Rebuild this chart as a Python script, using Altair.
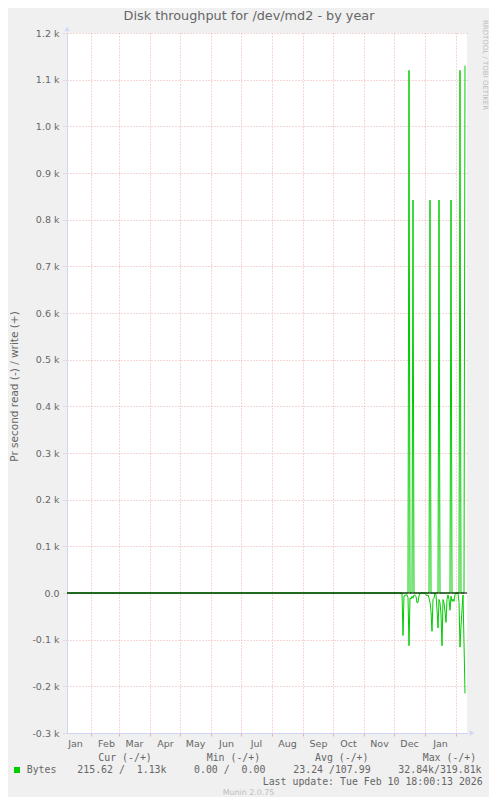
import altair as alt
import pandas as pd

# ---------------- data ----------------
TITLE = "Disk throughput for /dev/md2 - by year"
Y_TITLE = "Pr second read (-) / write (+)"
WATERMARK = "Munin 2.0.75"
SIDE_TEXT = "RRDTOOL / TOBI OETIKER"

first_date = "2025-01-08"          # start of the 400-day window
domain_start = "2025-01-08"
domain_end = "2026-02-12"

# one value per day, 2025-12-07 .. 2026-02-10 (bytes per second)
active_dates = pd.date_range("2025-12-07", "2026-02-10", freq="D").strftime("%Y-%m-%d").tolist()
read_bytes = [0, 0, 0, 91, 6, 5, 4, 4, 10, 113,
              11, 13, 7, 11, 4, 5, 7, 21, 20, 6,
              0, 0, 0, 0, 0, 0, 4, 6, 4, 11,
              20, 40, 82, 14, 11, 0, 4, 36, 75, 14,
              21, 45, 113, 14, 21, 40, 63, 14, 4, 14,
              37, 7, 18, 13, 18, 4, 0, 0, 0, 20,
              116, 71, 36, 4, 107, 215]
write_bytes = [0, 0, 0, 0, 0, 0, 0, 0, 0, 1120,
               0, 0, 0, 842, 0, 0, 0, 0, 0, 0,
               0, 0, 0, 0, 0, 0, 0, 0, 0, 0,
               842, 0, 0, 0, 0, 0, 0, 0, 0, 842,
               0, 0, 0, 0, 0, 0, 0, 0, 0, 0,
               0, 842, 0, 0, 0, 0, 0, 0, 0, 0,
               1120, 0, 0, 0, 0, 1130]

month_starts = ["2025-02-01", "2025-03-01", "2025-04-01", "2025-05-01", "2025-06-01",
                "2025-07-01", "2025-08-01", "2025-09-01", "2025-10-01", "2025-11-01",
                "2025-12-01", "2026-01-01", "2026-02-01"]
month_label_dates = ["2025-01-16", "2025-02-16", "2025-03-16", "2025-04-16", "2025-05-16",
                     "2025-06-16", "2025-07-16", "2025-08-16", "2025-09-16", "2025-10-16",
                     "2025-11-16", "2025-12-16", "2026-01-16"]
y_ticks = [-300, -200, -100, 0, 100, 200, 300, 400, 500, 600, 700, 800, 900, 1000, 1100, 1200]

legend_headers = ["Cur (-/+)", "Min (-/+)", "Avg (-/+)", "Max (-/+)"]
legend_series = "Bytes"
legend_values = ["215.62 /\u00a0\u00a01.13k", "0.00 /\u00a0\u00a00.00", "23.24 /107.99", "32.84k/319.81k"]
last_update = "Last update: Tue Feb 10 18:00:13 2026"

# ---------------- styling ----------------
BG = "#F0F0F0"
AXIS_C = "#CFD6F8"
GRID_C = "#EBAFAF"
FONT_C = "#666666"
LINE_C = "#00CC00"
SANS = "DejaVu Sans"
MONO = "DejaVu Sans Mono"


def ms(s):
    return int(pd.Timestamp(s, tz="UTC").value // 10**6)


rows = [{"date": first_date, "value": 0, "series": "write"},
        {"date": first_date, "value": 0, "series": "read"}]
for d, r, w in zip(active_dates, read_bytes, write_bytes):
    rows.append({"date": d, "value": w, "series": "write"})
    rows.append({"date": d, "value": -r, "series": "read"})
df = pd.DataFrame(rows)

x_values = sorted([ms(d) for d in month_starts + month_label_dates])
is_start = "utcdate(datum.value) == 1"

x_axis = alt.Axis(
    values=x_values,
    labelExpr="utcdate(datum.value) == 1 ? '' : utcFormat(datum.value, '%b')",
    labelFont=SANS, labelFontSize=9.5, labelColor=FONT_C,
    labelAlign="center", labelBaseline="top", labelPadding=2,
    labelOverlap=False, labelFlush=False,
    grid=True, gridColor=GRID_C, gridDash=[1, 2], gridWidth=1,
    gridOpacity={"condition": {"test": is_start, "value": 1}, "value": 0},
    ticks=True, tickColor=GRID_C, tickSize=3, tickWidth=1,
    tickOpacity={"condition": {"test": is_start, "value": 1}, "value": 0},
    domainColor=AXIS_C, domainWidth=1,
    title=None,
)
y_axis = alt.Axis(
    values=y_ticks,
    labelExpr="datum.value == 0 ? '0.0' : (datum.value < 0 ? '-' : '') + format(abs(datum.value) / 1000, '.1f') + ' k'",
    labelFont=SANS, labelFontSize=9.5, labelColor=FONT_C, labelPadding=3,
    labelOverlap=False, labelFlush=False,
    grid=True, gridColor=GRID_C, gridDash=[1, 2], gridWidth=1,
    ticks=True, tickColor=GRID_C, tickSize=5, tickDash=[1, 2], tickWidth=1,
    domainColor=AXIS_C, domainWidth=1,
    title=Y_TITLE, titleFont=SANS, titleFontSize=10.5, titleFontWeight="normal",
    titleColor=FONT_C, titleAngle=270, titleX=-53, titleY=353,
    titleAlign="center", titleBaseline="middle",
)

X = alt.X("date:T", scale=alt.Scale(type="utc", domain=[ms(domain_start), ms(domain_end)]), axis=x_axis)
Y = alt.Y("value:Q", scale=alt.Scale(domain=[-300, 1200], nice=False, zero=False), axis=y_axis)

lines = alt.Chart(df).mark_line(color=LINE_C, strokeWidth=1, interpolate="linear").encode(
    x=X, y=Y, detail="series:N")

zero_rule = alt.Chart(pd.DataFrame({"value": [0]})).mark_rule(color="black", strokeWidth=1).encode(
    y=Y)

y_arrow = alt.Chart(pd.DataFrame({"date": [domain_start], "value": [1200]})).mark_point(
    shape="triangle-up", filled=True, size=28, color=AXIS_C, opacity=1, yOffset=-4).encode(x=X, y=Y)
x_arrow = alt.Chart(pd.DataFrame({"date": [domain_end], "value": [-300]})).mark_point(
    shape="triangle-right", filled=True, size=28, color=AXIS_C, opacity=1, xOffset=5).encode(x=X, y=Y)


def label(text, px, py, font=SANS, size=9.5, color=FONT_C, align="left", angle=0):
    kw = dict(font=font, fontSize=size, color=color, align=align, baseline="middle")
    if angle:
        kw["angle"] = angle
    return alt.Chart(pd.DataFrame({"t": [text]})).mark_text(**kw).encode(
        text="t:N", x=alt.value(px), y=alt.value(py))


texts = [
    label(TITLE, 182, -17, size=12.8, align="center"),
    label(SIDE_TEXT, 418, 32, size=7, color="#BDBDBD", align="center", angle=90),
    label(WATERMARK, 181.5, 760.3, size=7.9, color="#BDBDBD", align="center"),
    label(last_update, 415.7, 748.7, font=MONO, size=9.9, align="right"),
    label(legend_series, -40.3, 736.7, font=MONO, size=9.9),
]
for h, px in zip(legend_headers, [31.3, 139.7, 248, 355.7]):
    texts.append(label(h, px, 724.7, font=MONO, size=9.9))
for v, px in zip(legend_values, [10.3, 127, 226.3, 331.3]):
    texts.append(label(v, px, 736.7, font=MONO, size=9.9))

legend_square = alt.Chart(pd.DataFrame({"t": ["Bytes"]})).mark_square(
    size=36, color=LINE_C, opacity=1).encode(x=alt.value(-50), y=alt.value(737))

chart = alt.layer(lines, zero_rule, y_arrow, x_arrow, legend_square, *texts).properties(
    width=400, height=700,
    background=BG,
    padding={"left": 59, "top": 25, "right": 22, "bottom": 64},
    autosize=alt.AutoSizeParams(type="none"),
).configure_view(stroke=None, fill="white")

chart.save("out.html", embed_options={"renderer": "svg", "actions": False})
